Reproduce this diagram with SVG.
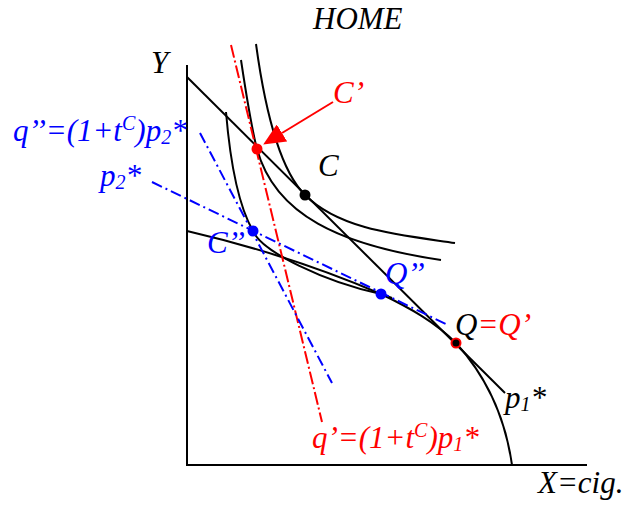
<svg xmlns="http://www.w3.org/2000/svg" width="624" height="506" viewBox="0 0 624 506">
<style>
  .ax{stroke:#000;stroke-width:2;fill:none}
  .blk{stroke:#000;stroke-width:2;fill:none}
  .rdd{stroke:#ff0000;stroke-width:2;fill:none;stroke-dasharray:13 3 2 3}
  .bdd{stroke:#0000ff;stroke-width:2;fill:none;stroke-dasharray:11 4 2 4}
  text{font-family:"Liberation Serif","Times New Roman",serif;font-style:italic;font-size:31px}
  .r{fill:#ff0000}
  .b{fill:#0000ff}
  .k{fill:#000}
  .sup{font-size:20px}
  .sub{font-size:20px}
</style>
<defs>
  <marker id="ah" markerUnits="userSpaceOnUse" markerWidth="22" markerHeight="20" refX="0" refY="10" orient="auto">
    <path d="M0,0 L22,10 L0,20 z" fill="#ff0000"/>
  </marker>
</defs>
<g id="axes">
  <path class="ax" d="M187,65 V465 H587"/>
</g>
<g id="curves">
  <path id="ppf" class="blk" d="M187,231 C260,248 330,272 381,294 C410,308 435,322 456,343 C485,375 505,415 512,465"/>
  <path id="p1line" class="blk" d="M187,77 L505,393"/>
  <path id="ic1" class="blk" d="M256,44 C265,110 280,170 305,195 C340,230 400,235 455,243"/>
  <path id="ic2" class="blk" d="M241,60 C247,100 252,130 257,149 C275,215 340,245 441,260"/>
  <path id="ic3" class="blk" d="M226,112 C230,160 238,205 253,231 C262,252 325,282 381,294 L392,298"/>
  <path id="qprime" class="rdd" d="M231,45 L322,422"/>
  <path id="qdprime" class="bdd" d="M200,133 L332,383"/>
  <path id="p2line" class="bdd" d="M152,182 L448,325"/>
  <path id="arrow" stroke="#ff0000" stroke-width="2" fill="none" d="M333,102 L282,133" marker-end="url(#ah)"/>
</g>
<g id="points">
  <circle id="pC1" cx="257" cy="149" r="5.5" fill="#ff0000"/>
  <circle id="pC" cx="305" cy="195" r="5.5" fill="#000"/>
  <circle id="pC2" cx="253" cy="231" r="5.5" fill="#0000ff"/>
  <circle id="pQ2" cx="381" cy="294" r="5.5" fill="#0000ff"/>
  <circle id="pQ" cx="456" cy="343" r="4.5" fill="#000" stroke="#ff0000" stroke-width="2"/>
</g>
<g id="labels">
  <text class="k" x="313" y="29">HOME</text>
  <text class="k" x="151" y="73">Y</text>
  <text class="r" x="333" y="103">C’</text>
  <text class="k" x="318" y="176">C</text>
  <text class="b" x="13" y="141">q’’=(1+t<tspan class="sup" dy="-11">C</tspan><tspan dy="11">)p</tspan><tspan class="sub" dy="3">2</tspan><tspan dy="-3">*</tspan></text>
  <text class="b" x="100" y="186">p<tspan class="sub" dy="3">2</tspan><tspan dy="-3">*</tspan></text>
  <text class="b" x="207" y="253">C’’</text>
  <text class="b" x="385" y="284">Q’’</text>
  <text x="455" y="335"><tspan class="k">Q</tspan><tspan class="r">=Q’</tspan></text>
  <text class="k" x="505" y="408">p<tspan class="sub" dy="3">1</tspan><tspan dy="-3">*</tspan></text>
  <text class="r" x="312" y="448">q’=(1+t<tspan class="sup" dy="-11">C</tspan><tspan dy="11">)p</tspan><tspan class="sub" dy="3">1</tspan><tspan dy="-3">*</tspan></text>
  <text class="k" x="538" y="493">X=cig.</text>
</g>
</svg>
